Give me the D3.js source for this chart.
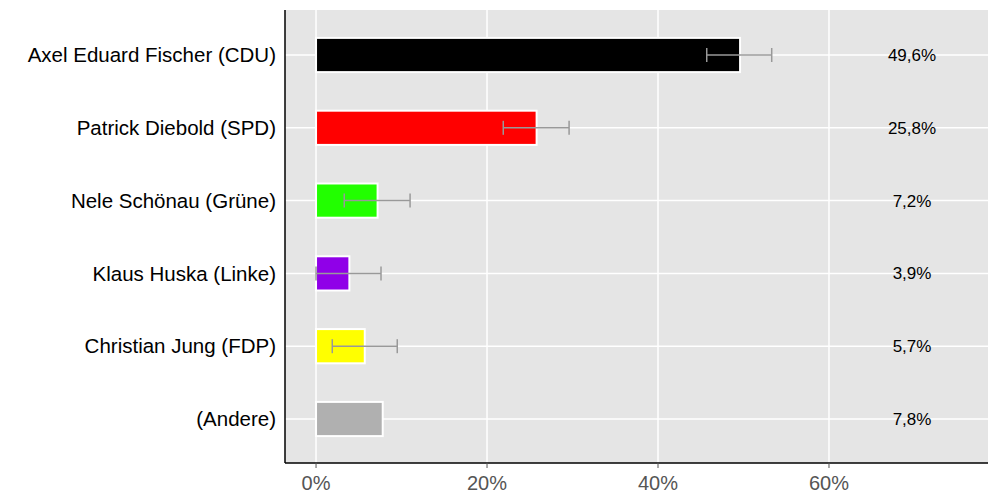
<!DOCTYPE html>
<html><head><meta charset="utf-8">
<script src="https://cdn.jsdelivr.net/npm/d3@7"></script>
<style>body{margin:0;background:#fff}svg{font-family:"Liberation Sans",Arial,sans-serif}</style>
</head><body><svg id="c" width="1000" height="500"></svg>
<script>
const categories=["Axel Eduard Fischer (CDU)","Patrick Diebold (SPD)","Nele Schönau (Grüne)","Klaus Huska (Linke)","Christian Jung (FDP)","(Andere)"];
const values=[49.6,25.8,7.2,3.9,5.7,7.8];
const errLow=[45.7,21.9,3.3,0.0,1.9,null];
const errHigh=[53.3,29.6,11.0,7.6,9.5,null];
const colors=["#000000","#ff0000","#22ff00","#9000e8","#ffff00","#b0b0b0"];
const valueLabels=["49,6%","25,8%","7,2%","3,9%","5,7%","7,8%"];
const xTicks=[0,20,40,60];

const svg=d3.select("#c");
const L=285,R=988,T=10,B=463;
const x=d3.scaleLinear().domain([-3.63,78.6]).range([L,R]);
const y=d3.scaleBand().domain(categories).range([18.6,455.4]).paddingInner(0.53).paddingOuter(0.265);
svg.append("rect").attr("x",L).attr("y",T).attr("width",R-L).attr("height",B-T).attr("fill","#e5e5e5");
svg.selectAll(".vg").data(xTicks).join("line").attr("x1",d=>x(d)).attr("x2",d=>x(d)).attr("y1",T).attr("y2",B).attr("stroke","#fff").attr("stroke-width",1.5);
svg.selectAll(".hg").data(categories).join("line").attr("x1",L).attr("x2",R).attr("y1",d=>y(d)+y.bandwidth()/2).attr("y2",d=>y(d)+y.bandwidth()/2).attr("stroke","#fff").attr("stroke-width",1.5);
svg.selectAll(".bar").data(categories).join("rect").attr("x",x(0)).attr("y",d=>y(d)).attr("height",y.bandwidth()).attr("width",(d,i)=>x(values[i])-x(0)).attr("fill",(d,i)=>colors[i]).attr("stroke","#fff").attr("stroke-width",2);
const eg=svg.append("g").attr("stroke","#999").attr("stroke-width",1.5);
categories.forEach((c,i)=>{if(errLow[i]==null)return;const cy=y(c)+y.bandwidth()/2;
 eg.append("line").attr("x1",x(errLow[i])).attr("x2",x(errHigh[i])).attr("y1",cy).attr("y2",cy);
 [errLow[i],errHigh[i]].forEach(v=>eg.append("line").attr("x1",x(v)).attr("x2",x(v)).attr("y1",cy-7).attr("y2",cy+7));});
svg.selectAll(".vl").data(categories).join("text").attr("x",912).attr("y",d=>y(d)+y.bandwidth()/2).attr("dy","0.35em").attr("text-anchor","middle").attr("font-size",17).text((d,i)=>valueLabels[i]);
svg.selectAll(".cl").data(categories).join("text").attr("x",276).attr("y",d=>y(d)+y.bandwidth()/2).attr("dy","0.35em").attr("text-anchor","end").attr("font-size",20.5).text(d=>d);
svg.selectAll(".xl").data(xTicks).join("text").attr("x",d=>x(d)).attr("y",490).attr("text-anchor","middle").attr("font-size",20).attr("fill","#555").text(d=>d+"%");
svg.append("line").attr("x1",L).attr("x2",L).attr("y1",T).attr("y2",B).attr("stroke","#000").attr("stroke-width",1.5);
svg.append("line").attr("x1",L).attr("x2",R).attr("y1",B).attr("y2",B).attr("stroke","#000").attr("stroke-width",1.5);
svg.selectAll(".xt").data(xTicks).join("line").attr("x1",d=>x(d)).attr("x2",d=>x(d)).attr("y1",B).attr("y2",B+5).attr("stroke","#555");
</script></body></html>
